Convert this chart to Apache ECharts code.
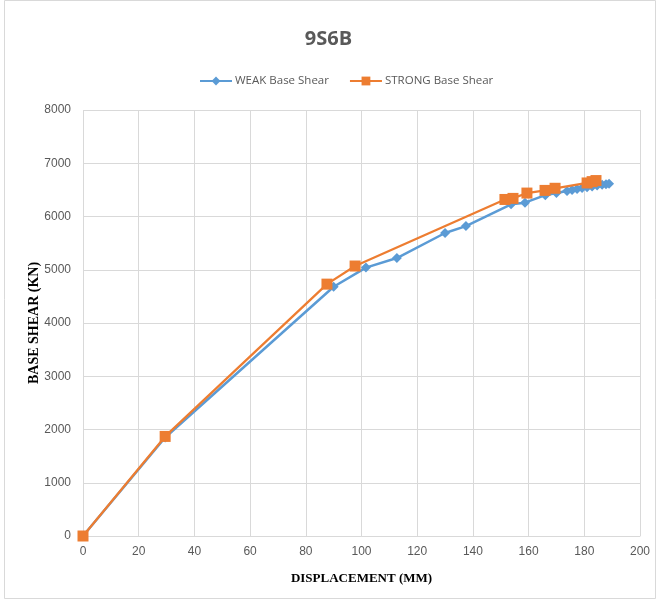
<!DOCTYPE html>
<html><head><meta charset="utf-8">
<script src="https://cdn.jsdelivr.net/npm/echarts@6/dist/echarts.min.js"></script>
<style>html,body{margin:0;padding:0;background:#fff}#c{width:657px;height:601px}</style>
</head><body><div id="c"></div>
<script>
const weakX = [0, 29.5, 90, 101.6, 112.7, 130, 137.5, 153.7, 158.7, 166, 170, 173.8, 175.6, 177.4, 179.2, 181, 182.8, 184.6, 186.4, 187.8, 188.9];
const weakY = [0, 1850, 4680, 5040, 5220, 5690, 5820, 6230, 6260, 6400, 6440, 6480, 6500, 6515, 6535, 6550, 6565, 6580, 6595, 6605, 6615];
const strongX = [0, 29.5, 87.6, 97.7, 151.5, 154.4, 159.4, 165.9, 169.5, 181, 182.8, 184.2];
const strongY = [0, 1870, 4730, 5070, 6320, 6340, 6440, 6490, 6530, 6630, 6655, 6675];
const xTicks = [0, 200, 20];
const yTicks = [0, 8000, 1000];

const chart = echarts.init(document.getElementById('c'));
const lab = {color:'#595959', fontSize:12, fontFamily:'Liberation Sans Narrow, Liberation Sans, sans-serif'};
chart.setOption({
  animation:false,
  backgroundColor:'#fff',
  graphic:[{type:'rect', shape:{x:4.5,y:0.5,width:651,height:598}, style:{fill:'none', stroke:'#d9d9d9', lineWidth:1}}],
  title:{text:'9S6B', left:'center', top:24, textStyle:{color:'#595959', fontSize:20, fontWeight:'bold', fontFamily:'Open Sans, sans-serif'}},
  legend:{top:70, left:194, itemGap:20, itemWidth:32, itemHeight:11, textStyle:{color:'#595959', fontSize:11.5, fontFamily:'Open Sans, sans-serif', padding:[0,0,0,-2]},
    data:['WEAK Base Shear','STRONG Base Shear']},
  grid:{left:83, right:17, top:110, bottom:65},
  xAxis:{type:'value', min:xTicks[0], max:xTicks[1], interval:xTicks[2],
    name:'DISPLACEMENT (MM)', nameLocation:'middle', nameGap:36, nameMoveOverlap:false,
    nameTextStyle:{color:'#000', fontWeight:'bold', fontSize:13, fontFamily:'Liberation Serif, serif'},
    axisLine:{show:true, lineStyle:{color:'#d9d9d9'}}, axisTick:{show:false},
    axisLabel:Object.assign({margin:10}, lab),
    splitLine:{show:true, lineStyle:{color:'#d9d9d9'}}},
  yAxis:{type:'value', min:yTicks[0], max:yTicks[1], interval:yTicks[2],
    name:'BASE SHEAR (KN)', nameLocation:'middle', nameGap:42, nameRotate:90, nameMoveOverlap:false,
    nameTextStyle:{color:'#000', fontWeight:'bold', fontSize:14, fontFamily:'Liberation Serif, serif'},
    axisLine:{show:false}, axisTick:{show:false},
    axisLabel:Object.assign({margin:12, formatter:v=>String(v)}, lab),
    splitLine:{show:true, lineStyle:{color:'#d9d9d9'}}},
  series:[
    {name:'WEAK Base Shear', type:'line', data:weakX.map((x,i)=>[x,weakY[i]]),
      symbol:'diamond', symbolSize:10, color:'#5b9bd5', lineStyle:{width:2.5, color:'#5b9bd5'}, itemStyle:{color:'#5b9bd5'}, z:2},
    {name:'STRONG Base Shear', type:'line', data:strongX.map((x,i)=>[x,strongY[i]]),
      symbol:'rect', symbolSize:11, color:'#ed7d31', lineStyle:{width:2.25, color:'#ed7d31'}, itemStyle:{color:'#ed7d31'}, z:3}
  ]
});
</script></body></html>
